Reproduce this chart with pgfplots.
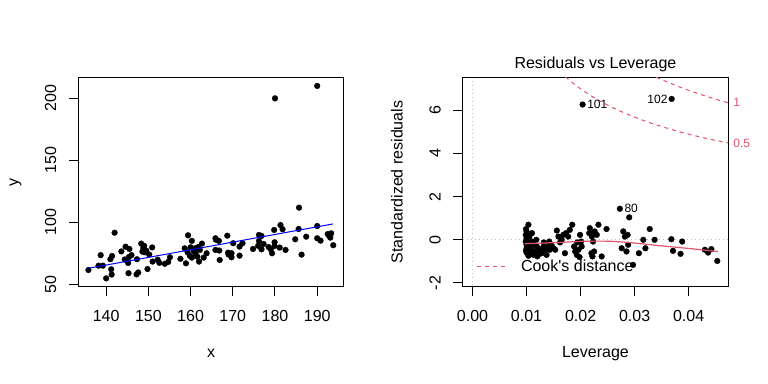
\documentclass[border=0pt]{standalone}
\usepackage{fontspec}
\setmainfont{Liberation Sans}[Ligatures=TeXOff]
\usepackage{pgfplots}
\pgfplotsset{compat=1.18}
\definecolor{cookred}{HTML}{DF536B}
\definecolor{rgray}{HTML}{BEBEBE}
\newcommand{\rfont}{\fontsize{16bp}{19bp}\selectfont}
\newcommand{\rsmall}{\fontsize{12bp}{14bp}\selectfont}
\pgfplotsset{
  rplot/.style={
    scale only axis, width=265.5bp, height=208bp, anchor=south west,
    axis line style={line width=1bp, black},
    tick align=outside, tick pos=left,
    major tick length=9.6bp,
    every tick/.style={black, line width=1bp},
    minor tick num=0,
    /pgf/number format/assume math mode=true,
    tick label style={font=\rfont, inner sep=0pt},
    xticklabel style={anchor=base, yshift=-26.1bp},
    yticklabel style={xshift=-12.6bp, rotate=90, anchor=base},
    label style={font=\rfont, inner sep=0pt},
    every axis x label/.style={at={(rel axis cs:0.5,-0.3428)}, anchor=base},
    every axis y label/.style={at={(rel axis cs:-0.2266,0.5)}, anchor=base, rotate=90},
    every axis title shift=0pt,
    clip mode=individual,
  },
  rpts/.style={only marks, mark=*, mark size=2.9bp, mark options={fill=black, draw=black, line width=0.3bp}},
}
\pgfplotstableread{
x y
135.8 61.5
138.7 73.5
138.2 65.0
139.2 65.0
140.0 54.8
141.2 62.1
141.3 57.8
141.0 70.2
141.4 72.8
142.0 91.6
143.6 76.5
144.6 80.3
145.5 78.5
144.4 70.0
145.2 67.2
145.4 72.0
145.3 58.9
147.3 70.2
147.6 59.5
147.2 58.0
148.3 82.8
148.8 79.2
149.2 75.8
149.5 77.2
148.6 76.3
149.8 62.3
150.9 79.7
151.0 68.3
152.2 69.8
152.6 67.3
153.9 66.5
154.7 68.0
155.1 71.8
158.9 66.9
158.6 79.0
159.4 89.5
159.3 75.8
160.3 85.0
160.0 79.8
160.3 71.5
161.0 79.0
161.2 74.5
161.6 72.3
162.0 68.3
162.2 77.7
162.7 82.8
163.1 71.5
165.9 87.1
165.9 77.7
166.8 77.2
166.9 69.6
166.7 85.0
168.7 89.2
168.9 75.5
169.7 75.0
169.7 71.8
170.1 83.1
171.6 73.1
171.6 80.4
172.3 83.1
174.8 78.5
176.2 89.8
176.2 84.9
176.8 89.0
176.8 78.2
177.3 82.5
179.0 78.2
179.3 75.0
179.8 93.8
179.9 83.9
179.9 80.9
181.1 79.6
181.3 97.8
181.8 94.4
182.5 77.7
184.8 86.3
185.6 94.6
185.7 111.8
186.3 73.9
187.4 88.4
190.0 97.0
190.0 87.1
190.8 85.2
192.8 89.2
193.1 87.6
193.3 91.1
193.8 81.5
160.8 76.5
161.8 80.0
159.8 73.0
149.0 81.0
146.0 73.5
166.0 86.0
169.0 74.0
178.5 80.0
157.6 70.5
176.0 81.0
150.2 74.0
192.5 90.5
163.8 75.0
180.0 200.0
190.0 210.0
}\scatterdata
\pgfplotstableread{
h r
0.01034 0.70
0.0100 0.39
0.00985 0.23
0.0100 0.08
0.00985 -0.08
0.0100 -0.23
0.0100 -0.39
0.0100 -0.59
0.01034 -0.74
0.0110 0.31
0.0110 -0.08
0.0109 -0.46
0.0113 -0.70
0.01157 -0.54
0.0119 -0.31
0.01237 -0.65
0.0125 -0.43
0.0131 -0.34
0.0134 -0.51
0.0140 -0.31
0.0143 -0.46
0.0146 -0.23
0.0150 -0.39
0.0156 0.43
0.0159 0.15
0.0162 -0.12
0.0165 0.00
0.0168 0.23
0.0171 -0.62
0.0173 0.31
0.0177 0.15
0.0180 0.46
0.01846 0.70
0.0190 -0.54
0.0193 -0.70
0.0196 -0.46
0.0198 -0.80
0.0199 0.23
0.0201 -0.08
0.0202 -0.31
0.0217 0.54
0.0219 0.31
0.0221 0.15
0.0223 -0.08
0.0226 0.39
0.0220 -0.62
0.0225 -0.54
0.0233 0.70
0.0239 -0.77
0.0248 0.50
0.02726 1.44
0.0290 1.04
0.0279 0.39
0.0282 0.15
0.0287 0.23
0.0276 -0.39
0.0285 -0.54
0.0288 -0.23
0.0297 -1.16
0.0308 -0.62
0.0316 0.00
0.0320 -0.39
0.0328 0.50
0.0337 0.00
0.0368 0.03
0.0371 -0.51
0.0385 -0.65
0.0388 -0.08
0.0430 -0.46
0.0436 -0.59
0.0442 -0.43
0.0453 -0.98
0.02037 6.27
0.03686 6.53
0.0099 0.50
0.0105 0.15
0.0106 -0.15
0.0105 -0.31
0.0108 -0.59
0.0114 -0.23
0.0118 0.00
0.0120 -0.77
0.0128 -0.62
0.0137 -0.70
0.0153 -0.46
0.0132 -0.12
0.0142 -0.08
0.0099 -0.50
0.0102 -0.12
0.0122 -0.55
0.0188 -0.31
0.0194 -0.12
0.0222 -0.77
0.0230 0.23
0.0216 0.31
}\levdata
\begin{document}
\rfont
\begin{tikzpicture}
\useasboundingbox (0,0) rectangle (768bp,384bp);
\begin{axis}[rplot, at={(78.3bp,98bp)},
  xmin=133.4, xmax=196.3, ymin=48.6, ymax=216.4,
  xtick={140,150,160,170,180,190}, ytick={50,100,150,200},
  xlabel={x}, ylabel={y}]
\addplot[rpts] table[x=x, y=y] {\scatterdata};
\addplot[blue, line width=1bp] coordinates {(135.8,62.9) (193.8,98.7)};
\end{axis}
\begin{axis}[rplot, at={(462.7bp,98bp)},
  xmin=-0.00182, xmax=0.04732, ymin=-2.14, ymax=7.5,
  xtick={0,0.01,0.02,0.03,0.04}, ytick={-2,0,2,4,6},
  scaled x ticks=false,
  xticklabel style={/pgf/number format/.cd, fixed, fixed zerofill, precision=2},
  xlabel={Leverage}, ylabel={Standardized residuals},
  title={Residuals vs Leverage},
  title style={at={(rel axis cs:0.5,1.0457)}, anchor=base, font=\rfont, inner sep=0pt},
  legend style={at={(rel axis cs:0.0528,0.0929)}, anchor=west, draw=none, fill=none,
    inner sep=0pt, outer sep=0pt, font=\rfont, nodes={inner sep=0pt}},
  legend image code/.code={\draw[#1] (0bp,0bp) -- (28.3bp,0bp);},
  legend cell align=left]
\addplot[rgray, line width=1bp, dash pattern=on 1bp off 3bp, forget plot] coordinates {(-0.00182,0) (0.04732,0)};
\addplot[rgray, line width=1bp, dash pattern=on 1bp off 3bp, forget plot] coordinates {(0,-2.14) (0,7.5)};
\addplot[rpts, forget plot] table[x=h, y=r] {\levdata};
\addplot[cookred, line width=1.2bp, smooth, forget plot] coordinates {(0.0097,-0.18) (0.0130,-0.15) (0.0171,-0.11) (0.0200,-0.07) (0.0240,-0.06) (0.0265,-0.08) (0.0300,-0.15) (0.0350,-0.28) (0.0400,-0.40) (0.0454,-0.54)};
\addplot[cookred, line width=1bp, dash pattern=on 4bp off 4bp, smooth, forget plot] coordinates {
(0.0172,7.559) (0.018,7.386) (0.019,7.185) (0.020,7.0) (0.021,6.828) (0.022,6.667) (0.023,6.518) (0.024,6.377) (0.025,6.245) (0.026,6.121) (0.027,6.003) (0.028,5.892) (0.029,5.786) (0.030,5.686) (0.032,5.5) (0.034,5.330) (0.036,5.175) (0.038,5.031) (0.040,4.899) (0.042,4.776) (0.044,4.661) (0.046,4.554) (0.04732,4.493)};
\addplot[cookred, line width=1bp, dash pattern=on 4bp off 4bp, smooth, forget plot] coordinates {
(0.0340,7.538) (0.035,7.426) (0.036,7.318) (0.037,7.215) (0.038,7.116) (0.039,7.020) (0.040,6.928) (0.041,6.840) (0.042,6.754) (0.043,6.672) (0.044,6.592) (0.045,6.515) (0.046,6.441) (0.04732,6.354)};
\addlegendimage{cookred, line width=1bp, dash pattern=on 4bp off 4bp}
\addlegendentry{\hspace{15bp}Cook's distance}
\node[anchor=west, inner sep=0pt, xshift=4.5bp, font=\rsmall] at (axis cs:0.02037,6.27) {101};
\node[anchor=east, inner sep=0pt, xshift=-4bp, font=\rsmall] at (axis cs:0.03686,6.53) {102};
\node[anchor=west, inner sep=0pt, xshift=4.5bp, font=\rsmall] at (axis cs:0.02726,1.44) {80};
\node[anchor=west, inner sep=0pt, xshift=5bp, font=\rsmall, text=cookred] at (axis cs:0.04732,6.354) {1};
\node[anchor=west, inner sep=0pt, xshift=5bp, font=\rsmall, text=cookred] at (axis cs:0.04732,4.493) {0.5};
\end{axis}
\end{tikzpicture}
\end{document}
